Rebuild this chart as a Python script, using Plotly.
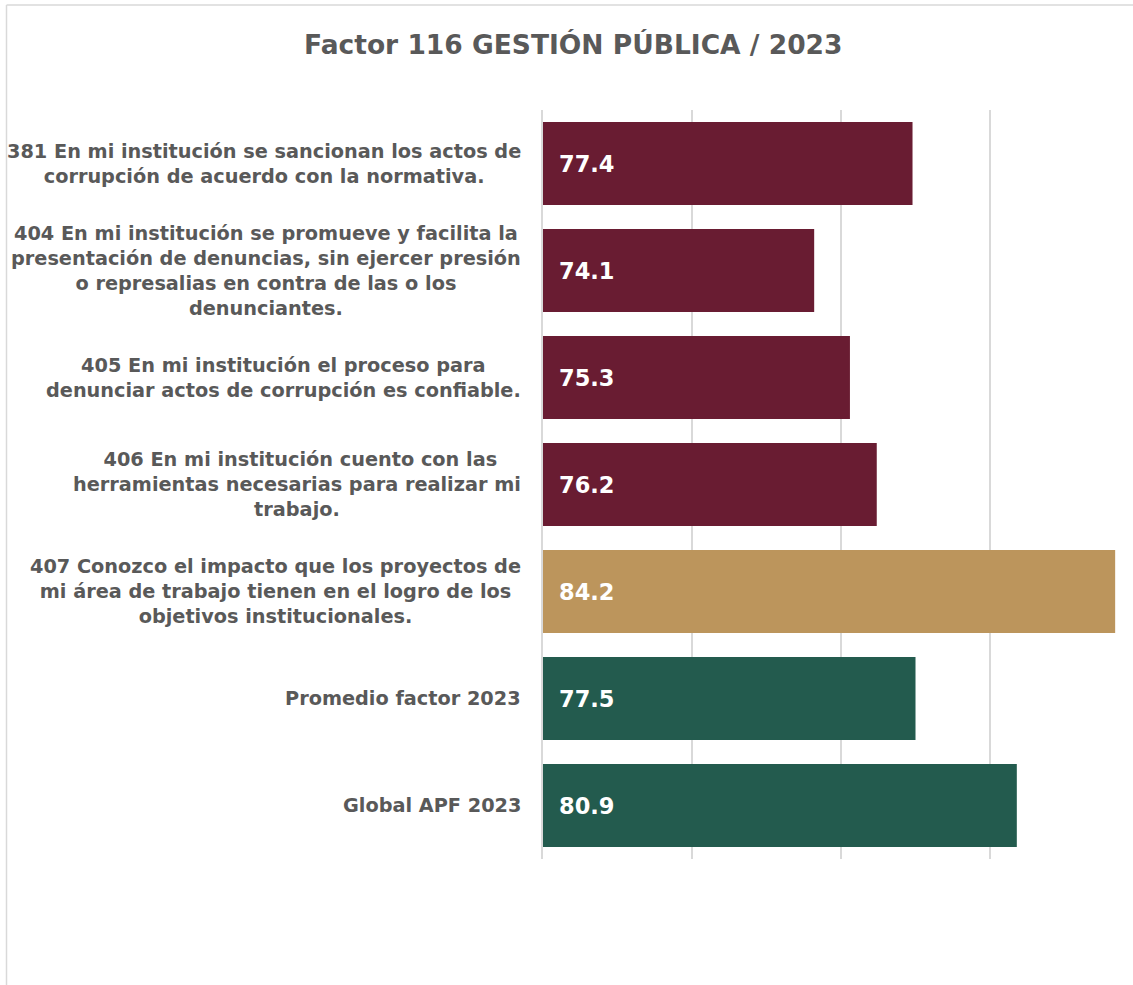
import plotly.graph_objects as go

# Survey items and their scores
categories = [
    "381 En mi institución se sancionan los actos de<br>corrupción de acuerdo con la normativa.",
    "404 En mi institución se promueve y facilita la<br>presentación de denuncias, sin ejercer presión<br>o represalias en contra de las o los<br>denunciantes.",
    "405 En mi institución el proceso para<br>denunciar actos de corrupción es confiable.",
    " 406 En mi institución cuento con las<br>herramientas necesarias para realizar mi<br>trabajo.",
    "407 Conozco el impacto que los proyectos de<br>mi área de trabajo tienen en el logro de los<br>objetivos institucionales.",
    "Promedio factor 2023",
    "Global APF 2023",
]
values = [77.4, 74.1, 75.3, 76.2, 84.2, 77.5, 80.9]
bar_colors = ["#691C32", "#691C32", "#691C32", "#691C32", "#BC955C", "#235B4E", "#235B4E"]
title_text = "Factor 116 GESTIÓN PÚBLICA / 2023"

W, H = 1133, 985
L, R, T, B = 543, 2, 110, 126
pw, ph = W - L - R, H - T - B
x_min = 65
px_per_unit = 29.8
x_max = x_min + pw / px_per_unit

FONT = "DejaVu Sans"
GRAY = "#595959"
GRID = "#D9D9D9"

idx = list(range(len(categories)))

fig = go.Figure(
    go.Bar(
        x=values,
        y=idx,
        base=0,
        orientation="h",
        marker=dict(color=bar_colors, line=dict(width=0)),
        hoverinfo="skip",
    )
)

annotations = []
# category labels, centered text blocks left of the axis
for i, cat in enumerate(categories):
    annotations.append(dict(
        x=0, xref="paper", y=i, yref="y",
        xanchor="right", yanchor="middle", xshift=-20,
        text=cat, showarrow=False, align="center",
        font=dict(family=FONT, size=19.3, color=GRAY, weight="bold"),
    ))
# value labels inside each bar
for i, v in enumerate(values):
    annotations.append(dict(
        x=x_min, xref="x", y=i, yref="y",
        xanchor="left", yanchor="middle", xshift=14,
        text=f"{v:.1f}", showarrow=False,
        font=dict(family=FONT, size=22.5, color="white", weight="bold"),
    ))

def px_x(p):
    return (p - L) / pw

def px_y(p):
    return (H - B - p) / ph

shapes = [
    # chart frame (left and top edges)
    dict(type="line", xref="paper", yref="paper",
         x0=px_x(6.5), x1=px_x(6.5), y0=px_y(5), y1=px_y(H + 5),
         line=dict(color=GRID, width=1.5)),
    dict(type="line", xref="paper", yref="paper",
         x0=px_x(6.5), x1=px_x(W + 5), y0=px_y(5), y1=px_y(5),
         line=dict(color=GRID, width=1.5)),
]

fig.update_layout(
    width=W, height=H,
    margin=dict(l=L, r=R, t=T, b=B),
    paper_bgcolor="white", plot_bgcolor="white",
    showlegend=False,
    bargap=0.225,
    title=dict(
        text=title_text, x=0.506, xanchor="center", y=1 - 45 / H, yanchor="middle",
        font=dict(family=FONT, size=26.5, color=GRAY, weight="bold"),
    ),
    xaxis=dict(
        range=[x_min, x_max], tick0=x_min, dtick=5,
        showgrid=True, gridcolor=GRID, gridwidth=1.5,
        zeroline=False, showticklabels=False, ticks="", showline=False,
    ),
    yaxis=dict(
        range=[len(categories) - 0.5, -0.5],
        showgrid=False, zeroline=False, showticklabels=False, ticks="",
        showline=True, linecolor=GRID, linewidth=1.5,
    ),
    annotations=annotations,
    shapes=shapes,
)

fig.write_html("out.html")
